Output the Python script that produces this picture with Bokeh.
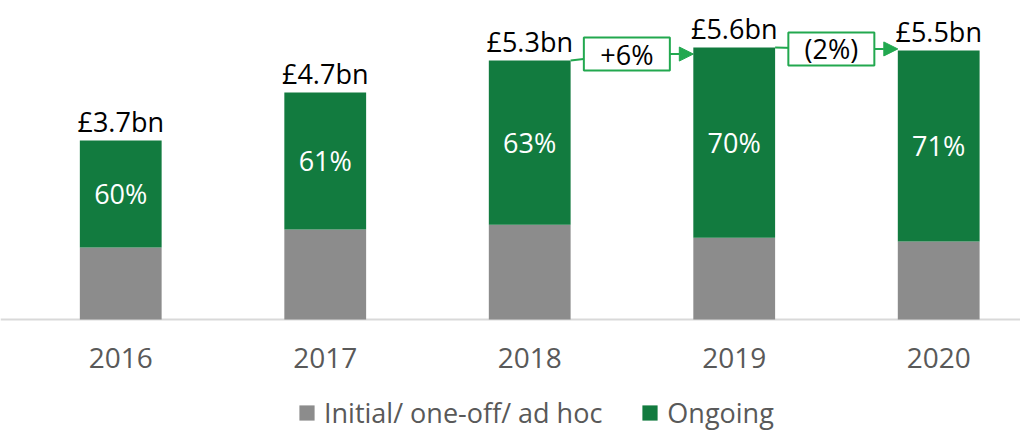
from bokeh.plotting import figure
from bokeh.models import Range1d, Span, Arrow, NormalHead, Legend, LegendItem
from bokeh.core.properties import value
from bokeh.embed import file_html
from bokeh.resources import INLINE

# ---- data ----
years = ["2016", "2017", "2018", "2019", "2020"]
initial = [1.49, 1.86, 1.96, 1.69, 1.61]          # £bn, grey segment
ongoing = [2.21, 2.83, 3.39, 3.93, 3.95]          # £bn, green segment
total_labels = ["£3.7bn", "£4.7bn", "£5.3bn", "£5.6bn", "£5.5bn"]
ongoing_pct = ["60%", "61%", "63%", "70%", "71%"]
change_from = ["2018", "2019"]
change_labels = ["+6%", "(2%)"]

GREY = "#8c8c8c"
GREEN = "#127b3f"
ARROW = "#22a84f"
FONT = "Open Sans"
FS = "27px"

xs = list(range(len(years)))
tops = [a + b for a, b in zip(initial, ongoing)]
green_mid = [a + b / 2 for a, b in zip(initial, ongoing)]
BW = 0.4

p = figure(width=1020, height=433,
           x_range=Range1d(-0.588, 4.40), y_range=Range1d(-2.355, 6.591),
           x_axis_type=None, y_axis_type=None,
           output_backend="svg", toolbar_location=None, min_border=0)
p.grid.visible = False
p.outline_line_color = None

p.add_layout(Span(location=0, dimension="width", line_color="#d9d9d9",
                  line_width=2, level="underlay"))

r_init = p.vbar(x=xs, width=BW, bottom=0, top=initial, fill_color=GREY, line_color=None)
r_ong = p.vbar(x=xs, width=BW, bottom=initial, top=tops, fill_color=GREEN, line_color=None)

p.text(x=xs, y=tops, text=total_labels, text_align="center", text_baseline="alphabetic",
       y_offset=-19, text_font=value(FONT), text_font_size=FS, text_color="#000000")
p.text(x=xs, y=green_mid, text=ongoing_pct, text_align="center", text_baseline="middle",
       text_font=value(FONT), text_font_size=FS, text_color="#ffffff")
p.text(x=xs, y=[0] * len(xs), text=years, text_align="center", text_baseline="middle",
       y_offset=38, text_font=value(FONT), text_font_size="28px", text_color="#595959")

# change call-outs
for yr, lab in zip(change_from, change_labels):
    i = years.index(yr)
    mid = i + 0.5 - 0.025
    ymid = (tops[i] + tops[i + 1]) / 2
    p.segment(x0=[i + BW / 2], y0=[tops[i]], x1=[mid], y1=[ymid],
              line_color=ARROW, line_width=2)
    p.add_layout(Arrow(x_start=mid, y_start=ymid, x_end=i + 1 - BW / 2, y_end=ymid,
                       line_color=ARROW, line_width=2, level="underlay",
                       end=NormalHead(size=14, fill_color=ARROW, line_color=ARROW)))
    p.rect(x=[mid], y=[ymid], width=86, height=33, width_units="screen",
           height_units="screen", fill_color="white", line_color=ARROW, line_width=2)
    p.text(x=[mid], y=[ymid], text=[lab], text_align="center", text_baseline="middle",
           text_font=value(FONT), text_font_size=FS, text_color="#000000")

legend = Legend(items=[LegendItem(label="Initial/ one-off/ ad hoc", renderers=[r_init]),
                       LegendItem(label="Ongoing", renderers=[r_ong])],
                orientation="horizontal", location=(297, 2),
                glyph_width=19, glyph_height=19, label_standoff=8, spacing=38,
                padding=0, margin=0, border_line_color=None, background_fill_alpha=0,
                label_text_font=FONT, label_text_font_size=FS, label_text_color="#595959")
p.add_layout(legend)

open("out.html", "w").write(file_html(p, INLINE))
